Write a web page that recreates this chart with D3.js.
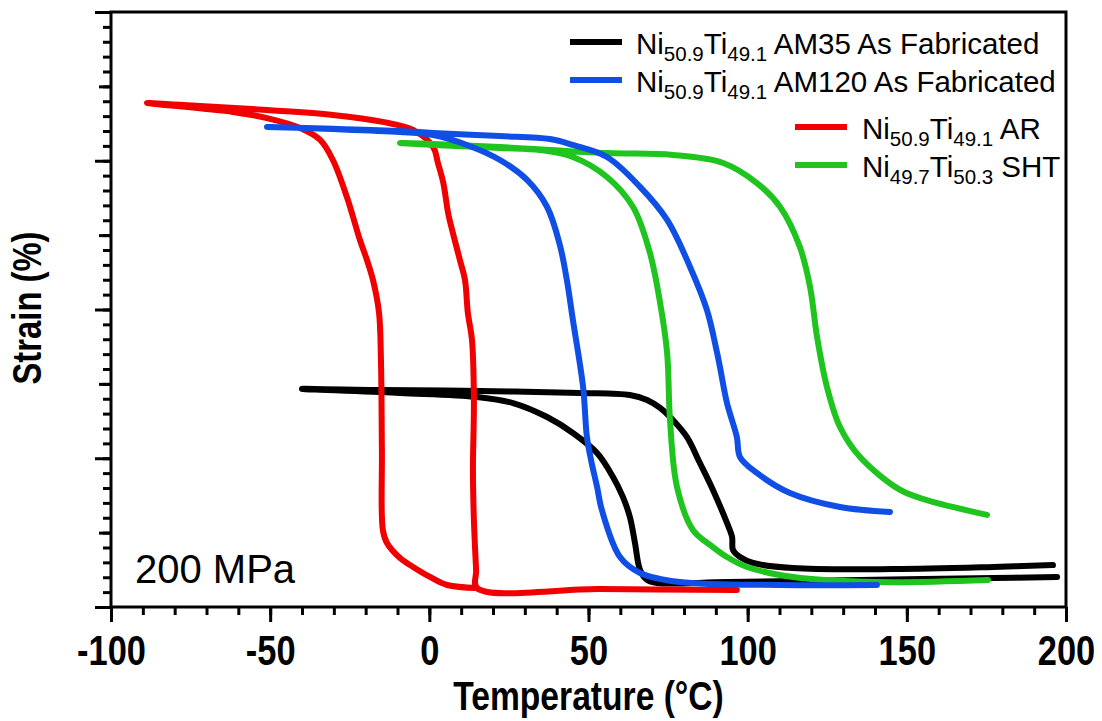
<!DOCTYPE html>
<html>
<head>
<meta charset="utf-8">
<script src="https://cdn.jsdelivr.net/npm/d3@7"></script>
<style>
  body { margin: 0; background: #fff; }
  svg { display: block; }
</style>
</head>
<body>
<div id="chart"></div>
<script>
// temperature (C), strain (arbitrary, axis has no labels)
const am35 = [
  [197.2,0.202],[177.1,0.195],[135.3,0.182],[93.5,0.168],[71.5,0.161],[68.4,0.182],[66.2,0.249],
  [64.6,0.430],[63.0,0.605],[60.8,0.740],[57.7,0.874],[52.7,1.035],[45.1,1.170],[37.0,1.277],
  [26.3,1.371],[15.0,1.412],[-9.2,1.439],[-40.0,1.466],
  [-15.5,1.459],[15.9,1.452],[47.3,1.439],[63.0,1.425],[68.4,1.392],[72.5,1.338],[76.5,1.257],
  [80.9,1.143],[85.0,0.968],[89.1,0.787],[93.5,0.565],[95.1,0.471],[95.4,0.383],[97.6,0.336],
  [101.7,0.296],[114.2,0.262],[145.7,0.255],[177.1,0.269],[195.9,0.282]
];
const am120 = [
  [140.6,0.148],[110.2,0.148],[78.7,0.168],[66.2,0.229],[59.9,0.336],[54.2,0.652],
  [52.7,0.807],[50.8,0.988],[49.5,1.143],[48.3,1.479],[45.1,1.929],[43.2,2.198],[41.0,2.434],
  [37.0,2.689],[30.7,2.871],[22.2,3.005],[11.8,3.106],[1.2,3.173],[-9.2,3.193],[-30.3,3.213],
  [-51.0,3.227],
  [-30.3,3.215],[-9.2,3.200],[1.2,3.187],[22.2,3.166],[37.9,3.146],[45.1,3.106],[55.8,3.025],
  [66.2,2.824],[74.7,2.602],[81.9,2.286],[87.2,1.997],[90.4,1.708],[91.3,1.613],[93.5,1.371],
  [96.6,1.143],[97.6,1.008],[102.9,0.901],[113.3,0.766],[129.0,0.672],[144.7,0.639]
];
const ar = [
  [96.6,0.114],[53.6,0.121],[15.0,0.128],[14.7,0.249],[14.0,0.585],[13.7,0.921],[14.0,1.392],
  [13.4,1.795],[12.1,1.977],[11.2,2.198],[9.6,2.333],[7.4,2.514],[5.9,2.649],[4.4,2.850],
  [2.7,2.985],[1.2,3.092],[-5.1,3.207],[-14.6,3.261],[-30.3,3.308],[-51.0,3.341],[-72.0,3.368],
  [-88.7,3.388],
  [-61.7,3.328],[-51.0,3.287],[-40.6,3.220],[-34.3,3.140],[-30.3,3.005],[-25.9,2.756],
  [-21.8,2.467],[-19.6,2.333],[-17.7,2.198],[-15.8,1.977],[-15.2,1.661],[-14.9,1.055],
  [-14.6,0.518],[-13.3,0.430],[-9.2,0.329],[-5.1,0.269],[0.2,0.202],[5.6,0.148],[15.0,0.128]
];
const sht = [
  [175.5,0.182],[140.6,0.168],[114.2,0.202],[99.8,0.269],[93.5,0.336],[89.1,0.403],[82.8,0.518],
  [77.8,0.807],[75.6,1.257],[74.7,1.708],[72.5,2.044],[69.3,2.380],[64.0,2.689],[55.8,2.891],
  [45.1,3.025],[34.8,3.072],[22.2,3.086],[1.2,3.106],[-9.2,3.119],
  [1.2,3.112],[22.2,3.092],[55.8,3.052],[76.5,3.039],[92.3,2.985],[102.9,2.850],[110.2,2.689],
  [116.4,2.420],[119.6,2.151],[121.8,1.815],[124.9,1.479],[129.0,1.210],[135.3,1.008],
  [147.9,0.787],[156.3,0.719],[175.2,0.619]
];

const xMajor = [-100, -50, 0, 50, 100, 150, 200];
const yMajor = [0, 1, 2, 3, 4];

// legend label parts: [text, isSubscript]
const legendAM35 = [["Ni",0],["50.9",1],["Ti",0],["49.1",1],[" AM35 As Fabricated",0]];
const legendAM120 = [["Ni",0],["50.9",1],["Ti",0],["49.1",1],[" AM120 As Fabricated",0]];
const legendAR = [["Ni",0],["50.9",1],["Ti",0],["49.1",1],[" AR",0]];
const legendSHT = [["Ni",0],["49.7",1],["Ti",0],["50.3",1],[" SHT",0]];

const W = 1102, H = 721;
const mLeft = 111, mRight = 1066, mTop = 12, mBottom = 607;
const sans = "'Liberation Sans',Arial,sans-serif";
const squeeze = 0.82; // no narrow font installed, so squeeze bold sans

const svg = d3.select("#chart").append("svg")
    .attr("width", W)
    .attr("height", H);

const x = d3.scaleLinear().domain([-100, 200]).range([mLeft, mRight]);
const y = d3.scaleLinear().domain([0, 4]).range([mBottom, mTop]);

// x axis: minor then major
const xMinor = d3.range(-100, 201, 10);
svg.append("g")
    .attr("transform", "translate(0," + mBottom + ")")
    .call(d3.axisBottom(x).tickValues(xMinor).tickSize(8).tickSizeOuter(0).tickFormat(""))
    .call(g => g.select(".domain").remove());
const xAx = svg.append("g")
    .attr("transform", "translate(0," + mBottom + ")")
    .call(d3.axisBottom(x).tickValues(xMajor).tickSize(15).tickSizeOuter(0).tickFormat(d => String(d)));
xAx.select(".domain").remove();
xAx.selectAll("text")
    .attr("y", 0).attr("dy", 0)
    .attr("transform", "translate(0,58) scale(" + squeeze + ",1)")
    .style("font-family", sans).style("font-weight", "bold").style("font-size", "42px")
    .attr("fill", "#000");

// y axis: minor, medium, major (no labels)
const yMinor = d3.range(0, 41).map(d => d / 10);
svg.append("g")
    .attr("transform", "translate(" + mLeft + ",0)")
    .call(d3.axisLeft(y).tickValues(yMinor).tickSize(8).tickSizeOuter(0).tickFormat(""))
    .call(g => g.select(".domain").remove());
svg.append("g")
    .attr("transform", "translate(" + mLeft + ",0)")
    .call(d3.axisLeft(y).tickValues([0.5, 1.5, 2.5, 3.5]).tickSize(12).tickSizeOuter(0).tickFormat(""))
    .call(g => g.select(".domain").remove());
svg.append("g")
    .attr("transform", "translate(" + mLeft + ",0)")
    .call(d3.axisLeft(y).tickValues(yMajor).tickSize(16).tickSizeOuter(0).tickFormat(""))
    .call(g => g.select(".domain").remove());

svg.selectAll(".tick line").attr("stroke", "#000").attr("stroke-width", 3);

// frame
svg.append("rect")
    .attr("x", mLeft).attr("y", mTop)
    .attr("width", mRight - mLeft).attr("height", mBottom - mTop)
    .attr("fill", "none").attr("stroke", "#000").attr("stroke-width", 3);

// curves
const line = d3.line()
    .x(d => x(d[0]))
    .y(d => y(d[1]))
    .curve(d3.curveCatmullRom.alpha(0.5));

const series = [
  {data: am35, color: "#000000"},
  {data: ar, color: "#f00000"},
  {data: sht, color: "#1fc41f"},
  {data: am120, color: "#0f4fe6"}
];
series.forEach(s => {
  svg.append("path")
      .datum(s.data)
      .attr("d", line)
      .attr("fill", "none")
      .attr("stroke", s.color)
      .attr("stroke-width", 6)
      .attr("stroke-linecap", "round")
      .attr("stroke-linejoin", "round");
});

// legend
function legendItem(parts, color, x0, x1, tx, base) {
  svg.append("line")
      .attr("x1", x0).attr("x2", x1)
      .attr("y1", base - 12).attr("y2", base - 12)
      .attr("stroke", color).attr("stroke-width", 6);
  const t = svg.append("text")
      .attr("x", tx).attr("y", base)
      .style("font-family", sans).style("font-size", "29.5px")
      .attr("fill", "#000");
  let shifted = false;
  parts.forEach(p => {
    const sp = t.append("tspan").text(p[0]);
    if (p[1]) {
      sp.attr("dy", 7).style("font-size", "20.5px");
      shifted = true;
    } else if (shifted) {
      sp.attr("dy", -7);
      shifted = false;
    }
  });
}
legendItem(legendAM35, "#000000", 570, 622, 636, 54);
legendItem(legendAM120, "#0f4fe6", 570, 622, 636, 92);
legendItem(legendAR, "#f00000", 795, 847, 862, 139);
legendItem(legendSHT, "#1fc41f", 795, 847, 862, 177);

// annotation
svg.append("text")
    .attr("x", 135).attr("y", 583)
    .style("font-family", sans).style("font-size", "40px")
    .attr("fill", "#000")
    .text("200 MPa");

// axis titles
svg.append("text")
    .attr("transform", "translate(" + ((mLeft + mRight) / 2) + ",710) scale(" + squeeze + ",1)")
    .attr("text-anchor", "middle")
    .style("font-family", sans).style("font-weight", "bold").style("font-size", "41px")
    .text("Temperature (°C)");
svg.append("text")
    .attr("transform", "translate(41,308) rotate(-90) scale(" + squeeze + ",1)")
    .attr("text-anchor", "middle")
    .style("font-family", sans).style("font-weight", "bold").style("font-size", "40px")
    .text("Strain (%)");
</script>
</body>
</html>
